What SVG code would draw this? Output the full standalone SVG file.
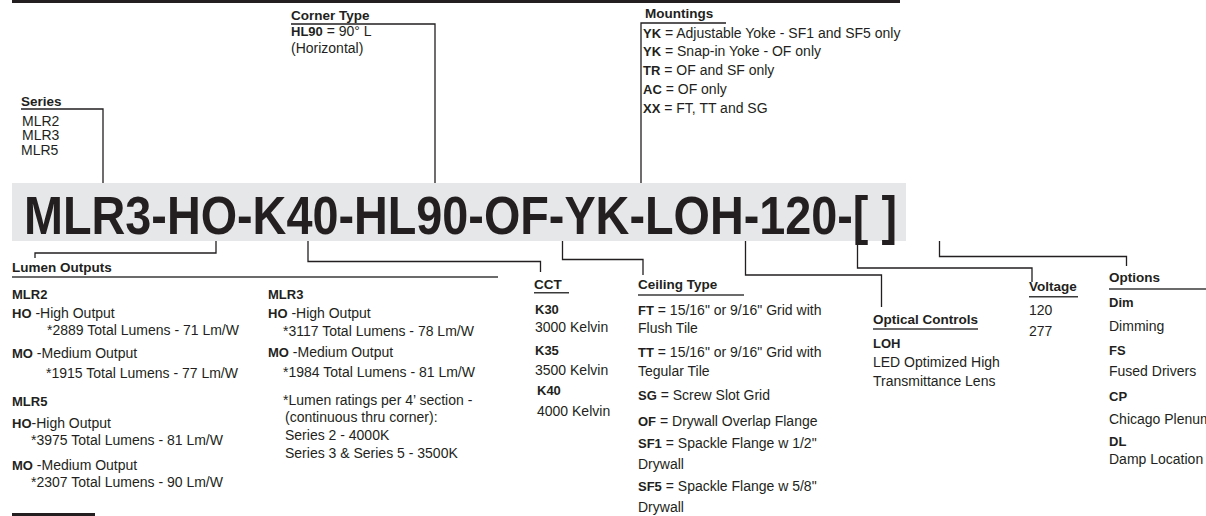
<svg xmlns="http://www.w3.org/2000/svg" width="1206" height="516" viewBox="0 0 1206 516">
<style>
text{font-family:"Liberation Sans",Arial,sans-serif;fill:#231f20;font-size:14px}
.h{font-weight:bold;font-size:13.5px}
.b{font-weight:bold;font-size:13px}
tspan.b{font-weight:bold;font-size:13px}
.big{font-weight:bold;font-size:54px}
.ln{fill:none;stroke:#231f20;stroke-width:1.3}
.ul{fill:none;stroke:#3a3a3a;stroke-width:1.5}
</style>
<rect x="12" y="0" width="888" height="3" fill="#231f20"/>
<g id="code">
<rect x="12" y="183" width="894" height="58" fill="#e6e7e8"/>
<text class="big" x="24" y="234" textLength="873" lengthAdjust="spacingAndGlyphs">MLR3-HO-K40-HL90-OF-YK-LOH-120-[ ]</text>
</g>
<g id="connectors">
<polyline class="ln" points="21,109 103,109 103,183"/>
<polyline class="ln" points="291,24 435,24 435,183"/>
<polyline class="ln" points="726,23 641,23 641,183"/>
<polyline class="ln" points="216,241 216,253 35,253 35,258"/>
<polyline class="ln" points="308,241 308,261.5 540.5,261.5 540.5,272"/>
<polyline class="ln" points="562.5,241 562.5,259.5 643,259.5 643,275"/>
<polyline class="ln" points="745.5,241 745.5,275 881.5,275 881.5,307"/>
<polyline class="ln" points="857.5,241 857.5,268 1032,268 1032,282"/>
<polyline class="ln" points="939.5,241 939.5,256.5 1126.5,256.5 1126.5,266"/>
</g>
<g id="series">
<text class="h" x="21" y="106">Series</text>
<text x="22" y="126">MLR2</text>
<text x="22" y="140">MLR3</text>
<text x="21" y="155">MLR5</text>
</g>
<g id="corner-type">
<text class="h" x="291" y="20">Corner Type</text>
<text x="291" y="36"><tspan class="b">HL90</tspan> = 90° L</text>
<text x="291" y="53">(Horizontal)</text>
</g>
<g id="mountings">
<text class="h" x="645" y="18">Mountings</text>
<text x="643" y="37.5"><tspan class="b">YK</tspan> = Adjustable Yoke - SF1 and SF5 only</text>
<text x="643" y="56.3"><tspan class="b">YK</tspan> = Snap-in Yoke - OF only</text>
<text x="643" y="75.1"><tspan class="b">TR</tspan> = OF and SF only</text>
<text x="643" y="93.9"><tspan class="b">AC</tspan> = OF only</text>
<text x="643" y="112.7"><tspan class="b">XX</tspan> = FT, TT and SG</text>
</g>
<g id="lumen-outputs">
<text class="h" x="12" y="272">Lumen Outputs</text>
<line class="ul" x1="12" y1="277" x2="498" y2="277"/>
<text class="b" x="12" y="298.5">MLR2</text>
<text x="12" y="317.5"><tspan class="b">HO</tspan> -High Output</text>
<text x="47" y="334.5">*2889 Total Lumens - 71 Lm/W</text>
<text x="12" y="357.5"><tspan class="b">MO</tspan> -Medium Output</text>
<text x="46" y="377.5">*1915 Total Lumens - 77 Lm/W</text>
<text class="b" x="12" y="406">MLR5</text>
<text x="12" y="428"><tspan class="b">HO</tspan>-High Output</text>
<text x="31" y="444.5">*3975 Total Lumens - 81 Lm/W</text>
<text x="12" y="470"><tspan class="b">MO</tspan> -Medium Output</text>
<text x="31" y="487">*2307 Total Lumens - 90 Lm/W</text>
<rect x="12" y="513" width="83" height="3" fill="#231f20"/>
<text class="b" x="268" y="298.5">MLR3</text>
<text x="268" y="318"><tspan class="b">HO</tspan> -High Output</text>
<text x="283" y="335.5">*3117 Total Lumens - 78 Lm/W</text>
<text x="268" y="357"><tspan class="b">MO</tspan> -Medium Output</text>
<text x="283" y="377">*1984 Total Lumens - 81 Lm/W</text>
<text x="283" y="405">*Lumen ratings per 4’ section -</text>
<text x="285" y="422">(continuous thru corner):</text>
<text x="285" y="440">Series 2 - 4000K</text>
<text x="285" y="458">Series 3 &amp; Series 5 - 3500K</text>
</g>
<g id="cct">
<text class="h" x="534" y="289">CCT</text>
<line class="ul" x1="534" y1="292.7" x2="569" y2="292.7"/>
<text class="b" x="535" y="314">K30</text>
<text x="535" y="331.5">3000 Kelvin</text>
<text class="b" x="535" y="354.5">K35</text>
<text x="535" y="375">3500 Kelvin</text>
<text class="b" x="537" y="394.5">K40</text>
<text x="537" y="415.5">4000 Kelvin</text>
</g>
<g id="ceiling-type">
<text class="h" x="638" y="289">Ceiling Type</text>
<line class="ul" x1="638" y1="295" x2="744" y2="295"/>
<text x="638" y="314.5"><tspan class="b">FT</tspan> = 15/16" or 9/16" Grid with</text>
<text x="638" y="332.5">Flush Tile</text>
<text x="638" y="356.5"><tspan class="b">TT</tspan> = 15/16" or 9/16" Grid with</text>
<text x="638" y="375.5">Tegular Tile</text>
<text x="638" y="399.5"><tspan class="b">SG</tspan> = Screw Slot Grid</text>
<text x="638" y="426"><tspan class="b">OF</tspan> = Drywall Overlap Flange</text>
<text x="638" y="447.5"><tspan class="b">SF1</tspan> = Spackle Flange w 1/2"</text>
<text x="638" y="469">Drywall</text>
<text x="638" y="491"><tspan class="b">SF5</tspan> = Spackle Flange w 5/8"</text>
<text x="638" y="511.5">Drywall</text>
</g>
<g id="optical-controls">
<text class="h" x="873" y="323.5">Optical Controls</text>
<line class="ul" x1="873" y1="329" x2="978" y2="329"/>
<text class="b" x="873" y="347.5">LOH</text>
<text x="873" y="366.5">LED Optimized High</text>
<text x="873" y="386">Transmittance Lens</text>
</g>
<g id="voltage">
<text class="h" x="1029" y="291">Voltage</text>
<line class="ul" x1="1029" y1="296.7" x2="1078" y2="296.7"/>
<text x="1029" y="315">120</text>
<text x="1029" y="336">277</text>
</g>
<g id="options">
<text class="h" x="1109" y="282">Options</text>
<line class="ul" x1="1109" y1="289" x2="1206" y2="289"/>
<text class="b" x="1109" y="306.5">Dim</text>
<text x="1109" y="330.5">Dimming</text>
<text class="b" x="1109" y="354.5">FS</text>
<text x="1109" y="376">Fused Drivers</text>
<text class="b" x="1109" y="401">CP</text>
<text x="1109" y="424">Chicago Plenum</text>
<text class="b" x="1109" y="446">DL</text>
<text x="1109" y="463.5">Damp Location</text>
</g>
</svg>
